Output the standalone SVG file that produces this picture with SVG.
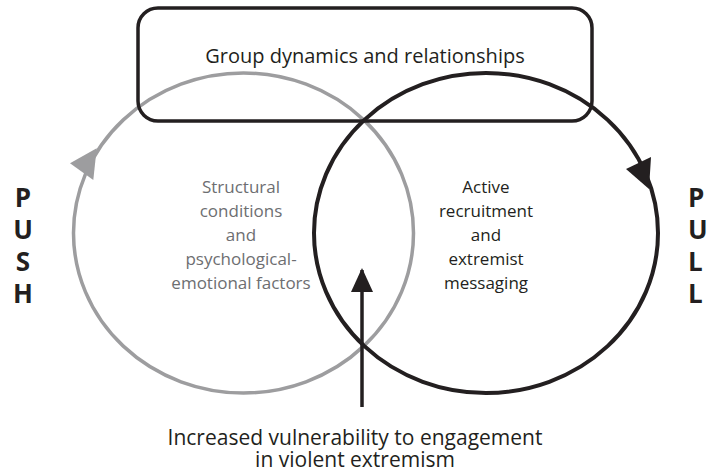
<svg xmlns="http://www.w3.org/2000/svg" width="707" height="476" viewBox="0 0 707 476">
<style>
text{font-family:"Open Sans","Noto Sans","Liberation Sans",sans-serif}
.lbl{font-size:20px;fill:#231f20;text-anchor:middle}
.out{font-size:21px;fill:#231f20;text-anchor:middle}
.in{font-size:17px;text-anchor:middle}
.gray{fill:#6d6e71}
.dark{fill:#231f20}
.big{font-size:26px;font-weight:bold;fill:#231f20}
.ring-push{fill:none;stroke:#9d9d9f;stroke-width:3.5}
.ring-pull{fill:none;stroke:#231f20;stroke-width:4}
.box{fill:none;stroke:#231f20;stroke-width:3.5}
.shaft{stroke:#231f20;stroke-width:3.5;fill:none}
</style>
<defs>
<marker id="head" markerUnits="userSpaceOnUse" markerWidth="24" markerHeight="22" refX="22" refY="11" orient="auto" viewBox="0 0 24 22">
<path d="M0 0 L24 11 L0 22 Z" fill="#231f20"/>
</marker>
</defs>
<g id="push-circle">
<ellipse class="ring-push" cx="243.5" cy="233" rx="170" ry="160"/>
<polygon points="96.7,148.3 70,163.3 93.3,180" fill="#9d9d9f"/>
<text class="in gray" x="241" y="193">Structural</text>
<text class="in gray" x="241" y="217">conditions</text>
<text class="in gray" x="241" y="241">and</text>
<text class="in gray" x="241" y="265">psychological-</text>
<text class="in gray" x="241" y="289">emotional factors</text>
</g>
<g id="pull-circle">
<ellipse class="ring-pull" cx="486" cy="233" rx="172" ry="160"/>
<polygon points="649,189 626,169 651,157" fill="#231f20"/>
<text class="in dark" x="486" y="193">Active</text>
<text class="in dark" x="486" y="217">recruitment</text>
<text class="in dark" x="486" y="241">and</text>
<text class="in dark" x="486" y="265">extremist</text>
<text class="in dark" x="486" y="289">messaging</text>
</g>
<g id="group-dynamics">
<rect class="box" x="138" y="8" width="454" height="113" rx="20" ry="20"/>
<text class="lbl" x="365" y="63">Group dynamics and relationships</text>
</g>
<g id="push-label">
<text class="big" x="23" y="207" text-anchor="middle">P</text>
<text class="big" x="23" y="239" text-anchor="middle">U</text>
<text class="big" x="23" y="271" text-anchor="middle">S</text>
<text class="big" x="23" y="303" text-anchor="middle">H</text>
</g>
<g id="pull-label">
<text class="big" x="688" y="207">P</text>
<text class="big" x="688" y="239">U</text>
<text class="big" x="688" y="271">L</text>
<text class="big" x="688" y="303">L</text>
</g>
<g id="outcome">
<text class="out" x="355" y="445">Increased vulnerability to engagement</text>
<text class="out" x="355" y="467">in violent extremism</text>
</g>
<g id="connectors">
<line class="shaft" x1="362" y1="407" x2="362" y2="270" marker-end="url(#head)"/>
</g>
</svg>
